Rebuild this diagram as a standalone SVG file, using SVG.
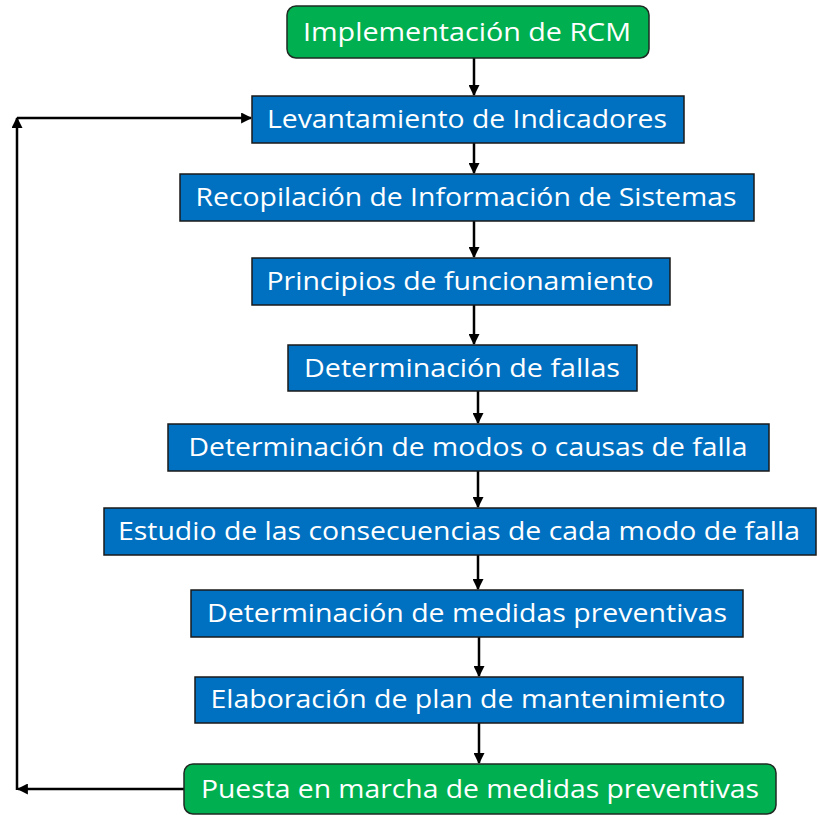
<svg xmlns="http://www.w3.org/2000/svg" width="817" height="815" viewBox="0 0 817 815">
<style>
.g{fill:#00b050;stroke:#1e2a22;stroke-width:1.5}
.b{fill:#0070c0;stroke:#1a1a1a;stroke-width:1.5}
.t{font-family:"Open Sans","Liberation Sans",sans-serif;font-size:25px;fill:#ffffff;text-anchor:middle}
.c{stroke:#000;stroke-width:2.5;fill:none;marker-end:url(#ah)}
</style>
<defs>
<marker id="ah" viewBox="0 0 10 10" refX="9" refY="5" markerWidth="4.4" markerHeight="4.4" orient="auto" markerUnits="strokeWidth">
<path d="M0,0 L10,5 L0,10 z" fill="#000"/>
</marker>
</defs>
<rect width="817" height="815" fill="#fff"/>
<g id="connectors">
<line class="c" x1="474" y1="58" x2="474" y2="95"/>
<line class="c" x1="474" y1="143" x2="474" y2="173"/>
<line class="c" x1="474" y1="221" x2="474" y2="257"/>
<line class="c" x1="474" y1="305" x2="474" y2="344"/>
<line class="c" x1="478" y1="391" x2="478" y2="423"/>
<line class="c" x1="478" y1="471" x2="478" y2="507"/>
<line class="c" x1="478" y1="555" x2="478" y2="589"/>
<line class="c" x1="479" y1="637" x2="479" y2="676"/>
<line class="c" x1="479" y1="723" x2="479" y2="763"/>
<line class="c" x1="184" y1="789" x2="18" y2="789"/>
<line class="c" x1="17" y1="790" x2="17" y2="118"/>
<line class="c" x1="17" y1="118" x2="251" y2="118"/>
</g>
<g id="n1"><rect class="g" x="287" y="6" width="362" height="52" rx="9"/><text class="t" x="467" y="41" textLength="328" lengthAdjust="spacingAndGlyphs">Implementación de RCM</text></g>
<g id="n2"><rect class="b" x="252" y="96" width="432" height="47"/><text class="t" x="467" y="128" textLength="400" lengthAdjust="spacingAndGlyphs">Levantamiento de Indicadores</text></g>
<g id="n3"><rect class="b" x="180" y="174" width="574" height="47"/><text class="t" x="466" y="206" textLength="541" lengthAdjust="spacingAndGlyphs">Recopilación de Información de Sistemas</text></g>
<g id="n4"><rect class="b" x="252" y="258" width="418" height="47"/><text class="t" x="460" y="290" textLength="387" lengthAdjust="spacingAndGlyphs">Principios de funcionamiento</text></g>
<g id="n5"><rect class="b" x="288" y="345" width="349" height="46"/><text class="t" x="462" y="377" textLength="316" lengthAdjust="spacingAndGlyphs">Determinación de fallas</text></g>
<g id="n6"><rect class="b" x="168" y="424" width="601" height="47"/><text class="t" x="468" y="456" textLength="559" lengthAdjust="spacingAndGlyphs">Determinación de modos o causas de falla</text></g>
<g id="n7"><rect class="b" x="104" y="508" width="712" height="47"/><text class="t" x="459" y="540" textLength="682" lengthAdjust="spacingAndGlyphs">Estudio de las consecuencias de cada modo de falla</text></g>
<g id="n8"><rect class="b" x="191" y="590" width="552" height="47"/><text class="t" x="467" y="622" textLength="520" lengthAdjust="spacingAndGlyphs">Determinación de medidas preventivas</text></g>
<g id="n9"><rect class="b" x="195" y="677" width="548" height="46"/><text class="t" x="468" y="708" textLength="515" lengthAdjust="spacingAndGlyphs">Elaboración de plan de mantenimiento</text></g>
<g id="n10"><rect class="g" x="184" y="764" width="592" height="50" rx="9"/><text class="t" x="480" y="798" textLength="558" lengthAdjust="spacingAndGlyphs">Puesta en marcha de medidas preventivas</text></g>
</svg>
